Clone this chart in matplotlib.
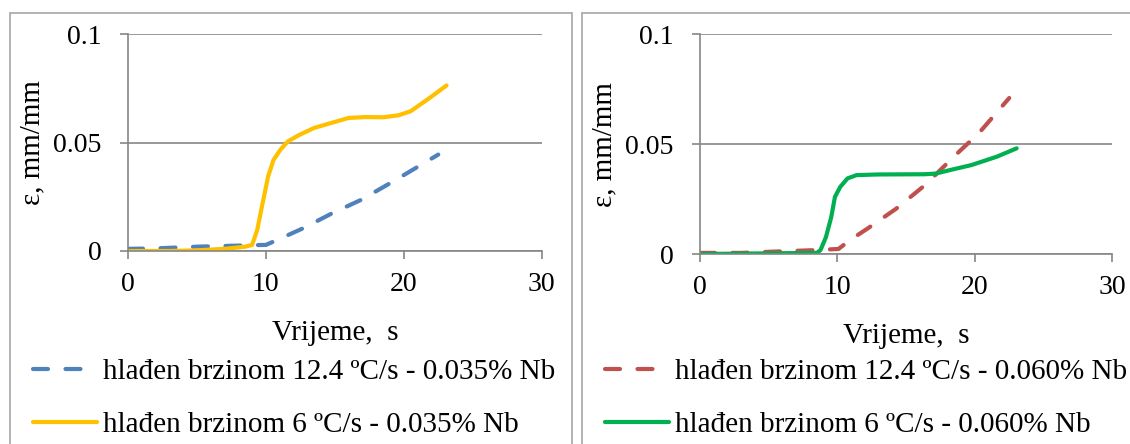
import matplotlib.pyplot as plt
from matplotlib.patches import Rectangle

# vrijeme (s) i deformacija (mm/mm) procitano sa slike
t_124_035 = [0, 2, 5, 8, 9, 10, 11.1, 12.7, 14.8, 16.9, 19.2, 22.5]
e_124_035 = [0.001, 0.0012, 0.002, 0.0025, 0.0027, 0.0028, 0.0059, 0.0105, 0.0174, 0.0236, 0.032, 0.0445]

t_6_035 = [0, 3, 5, 7, 8.5, 9.0, 9.37, 9.76, 10.16, 10.55, 11.07, 11.6, 12.4, 13.5, 14.8,
           16.0, 17.2, 18.5, 19.6, 20.5, 21.8, 23.1]
e_6_035 = [0, 0, 0.0003, 0.001, 0.002, 0.0028, 0.0097, 0.022, 0.0344, 0.042, 0.0469, 0.0506,
           0.0535, 0.0568, 0.0592, 0.0614, 0.0618, 0.0617, 0.0626, 0.0645, 0.0703, 0.0764]

t_124_060 = [0, 3, 5, 8.5, 10.08, 10.86, 12.17, 14.27, 16.36, 18.72, 20.29, 22.5]
e_124_060 = [0.0005, 0.0005, 0.001, 0.0018, 0.0023, 0.0061, 0.0115, 0.0206, 0.0313, 0.0458, 0.055, 0.071]

t_6_060 = [0, 8.5, 8.77, 9.16, 9.55, 9.82, 10.2, 10.73, 11.39, 12.96, 16.36, 17.15, 18.19,
           19.76, 21.6, 23.04]
e_6_060 = [0, 0.0005, 0.0018, 0.0076, 0.0168, 0.026, 0.0305, 0.0344, 0.0359, 0.0362, 0.0363,
           0.0366, 0.0382, 0.0405, 0.0443, 0.0481]

x_ticks = [0, 10, 20, 30]
y_ticks = [0, 0.05, 0.1]
y_ticklabels = ["0", "0.05", "0.1"]

labels_035 = ["hlađen brzinom 12.4 ºC/s - 0.035% Nb", "hlađen brzinom 6 ºC/s - 0.035% Nb"]
labels_060 = ["hlađen brzinom 12.4 ºC/s - 0.060% Nb", "hlađen brzinom 6 ºC/s - 0.060% Nb"]

plt.rcParams["font.family"] = ["Liberation Serif", "DejaVu Serif"]
plt.rcParams["font.size"] = 21

W, H = 1130, 444
fig = plt.figure(figsize=(W / 100, H / 100), dpi=100)

# okviri oko dva grafa
fig.patches.append(Rectangle((10 / W, -0.1), (571.7 - 10) / W, 1.1 - 12.7 / H,
                             transform=fig.transFigure, fill=False, ec="#a6a6a6", lw=1.2))
fig.patches.append(Rectangle((581.7 / W, -0.1), 0.6, 1.1 - 12.7 / H,
                             transform=fig.transFigure, fill=False, ec="#a6a6a6", lw=1.2))

ax1 = fig.add_axes([128 / W, 1 - 251 / H, 413.7 / W, (251 - 34.3) / H])
ax2 = fig.add_axes([700 / W, 1 - 254 / H, 412.3 / W, (254 - 34.3) / H])

dash = (0, (3.6, 4.2))

ax1.plot(t_124_035, e_124_035, color="#4f81bd", lw=3, ls=dash,
         dash_capstyle="round", label=labels_035[0])
ax1.plot(t_6_035, e_6_035, color="#ffc000", lw=3, solid_capstyle="round", label=labels_035[1])

ax2.plot(t_124_060, e_124_060, color="#c0504d", lw=3, ls=dash,
         dash_capstyle="round", label=labels_060[0])
ax2.plot(t_6_060, e_6_060, color="#00b050", lw=3, solid_capstyle="round", label=labels_060[1])

for ax, leg_x in [(ax1, 33 / W), (ax2, 605 / W)]:
    ax.set_xlim(0, 30)
    ax.set_ylim(0, 0.1)
    ax.set_xticks(x_ticks)
    ax.set_yticks(y_ticks)
    ax.set_yticklabels(y_ticklabels)
    ax.grid(axis="y", color="#868686", lw=1.2)
    ax.set_axisbelow(True)
    for s in ["top", "right"]:
        ax.spines[s].set_visible(False)
    for s in ["left", "bottom"]:
        ax.spines[s].set_color("#868686")
        ax.spines[s].set_linewidth(1.2)
    ax.tick_params(axis="both", direction="out", length=6, width=1.2, color="#868686",
                   labelsize=20)
    ax.tick_params(axis="x", pad=9)
    ax.tick_params(axis="y", pad=13)
    ax.set_xlabel("Vrijeme,  s", labelpad=17)
    ax.set_ylabel("ε, mm/mm", labelpad=6)
    ax.legend(loc="lower left", bbox_to_anchor=(leg_x, 6 / H), bbox_transform=fig.transFigure,
              frameon=False, handlelength=2.2, handletextpad=0.2, labelspacing=0.92,
              borderpad=0, borderaxespad=0)

fig.savefig("out.png", dpi=100)
